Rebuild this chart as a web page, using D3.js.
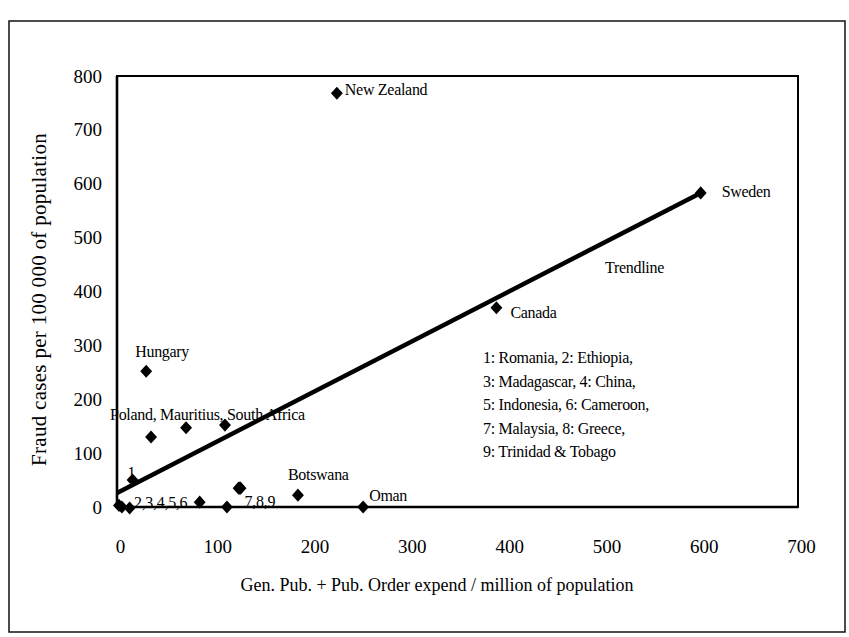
<!DOCTYPE html>
<html>
<head>
<meta charset="utf-8">
<script src="https://cdn.jsdelivr.net/npm/d3@7"></script>
<style>
  body { margin: 0; background: #fff; }
  text { font-family: "Liberation Serif", "Times New Roman", serif; fill: #000; }
</style>
</head>
<body>
<div id="chart"></div>
<script>
// data
const countries = ['Sweden', 'Canada', 'New Zealand', 'Hungary', 'Poland', 'Mauritius', 'South Africa',
  'Botswana', 'Oman', 'Romania', 'Ethiopia', 'Madagascar', 'China', 'Indonesia', 'Cameroon',
  'Malaysia', 'Greece', 'Trinidad & Tobago'];
const expend = [600, 390, 226, 30, 35, 71, 111, 186, 253, 16, 2, 5, 13, 85, 113, 126, 125, 127];
const fraud = [583, 370, 768, 252, 130, 147, 152, 22, 0, 50, 3, 0, -2, 9, 0, 35, 35, 35];
const trendX = [0, 600];
const trendY = [26, 583];
const xTicks = [0, 100, 200, 300, 400, 500, 600, 700];
const yTicks = [0, 100, 200, 300, 400, 500, 600, 700, 800];
const keyLines = ['1: Romania, 2: Ethiopia,', '3: Madagascar, 4: China,', '5: Indonesia, 6: Cameroon,',
  '7: Malaysia, 8: Greece,', '9: Trinidad & Tobago'];

const width = 849, height = 637;
const svg = d3.select('#chart').append('svg')
  .attr('width', width)
  .attr('height', height);

// outer frame
svg.append('rect')
  .attr('x', 9).attr('y', 21)
  .attr('width', 836).attr('height', 611)
  .attr('fill', 'none').attr('stroke', '#111').attr('stroke-width', 1.5);

let xScale = d3.scaleLinear().domain([0, 700]).range([117, 798]);
let yScale = d3.scaleLinear().domain([0, 800]).range([507, 76]);

// plot box
svg.append('rect')
  .attr('x', xScale(0)).attr('y', yScale(800))
  .attr('width', xScale(700) - xScale(0)).attr('height', yScale(0) - yScale(800))
  .attr('fill', 'none').attr('stroke', '#000').attr('stroke-width', 2);
svg.append('path')
  .attr('d', `M${xScale(0)},${yScale(800)}V${yScale(0)}H${xScale(700)}`)
  .attr('fill', 'none').attr('stroke', '#000').attr('stroke-width', 2.6);

// axes (labels only)
let yAxis = svg.append('g')
  .attr('transform', `translate(${xScale(0)},0)`)
  .call(d3.axisLeft(yScale).tickValues(yTicks).tickSize(0).tickPadding(15).tickFormat(d3.format('d')));
yAxis.select('.domain').remove();
yAxis.selectAll('text').style('font-size', '19px').style('font-family', '"Liberation Serif", serif');

let xAxis = svg.append('g')
  .attr('transform', `translate(3,${yScale(0)})`)
  .call(d3.axisBottom(xScale).tickValues(xTicks).tickSize(0).tickPadding(33).tickFormat(d3.format('d')));
xAxis.select('.domain').remove();
xAxis.selectAll('text').style('font-size', '19px').style('font-family', '"Liberation Serif", serif');

// axis titles
svg.append('text')
  .attr('transform', `translate(46,${(yScale(0) + yScale(800)) / 2 + 8}) rotate(-90)`)
  .style('text-anchor', 'middle')
  .style('font-size', '21px')
  .style('letter-spacing', '0.3px')
  .text('Fraud cases per 100 000 of population');
svg.append('text')
  .attr('x', 437).attr('y', 591)
  .style('text-anchor', 'middle')
  .style('font-size', '18px')
  .text('Gen. Pub. + Pub. Order expend / million of population');

// trendline
svg.append('line')
  .attr('x1', xScale(trendX[0])).attr('y1', yScale(trendY[0]))
  .attr('x2', xScale(trendX[1])).attr('y2', yScale(trendY[1]))
  .attr('stroke', '#000').attr('stroke-width', 4.5);

// points
svg.selectAll('path.pt')
  .data(countries)
  .enter()
  .append('path')
  .attr('class', 'pt')
  .attr('d', d3.symbol().type(d3.symbolDiamond2).size(90))
  .attr('transform', (d, i) => `translate(${xScale(expend[i])},${yScale(fraud[i])}) scale(1,1.1)`)
  .attr('fill', '#000');

// point labels, offsets from the point they belong to
let labels = [
  ['New Zealand', 'New Zealand', 8, 2],
  ['Sweden', 'Sweden', 21, 4],
  ['Canada', 'Canada', 14, 10],
  ['Hungary', 'Hungary', -11, -14],
  ['Poland, Mauritius, South Africa', 'Poland', -41, -17],
  ['1', 'Romania', -5, -2],
  ['2,3,4,5,6', 'Ethiopia', 15, 3],
  ['7,8,9', 'Malaysia', 5, 19],
  ['Botswana', 'Botswana', -10, -15],
  ['Oman', 'Oman', 6, -6]
];
svg.selectAll('text.lbl')
  .data(labels)
  .enter()
  .append('text')
  .attr('class', 'lbl')
  .attr('x', d => xScale(expend[countries.indexOf(d[1])]) + d[2])
  .attr('y', d => yScale(fraud[countries.indexOf(d[1])]) + d[3])
  .style('font-size', '16px')
  .style('letter-spacing', '-0.3px')
  .text(d => d[0]);

svg.append('text')
  .attr('x', 605).attr('y', 273)
  .style('font-size', '16px')
  .style('letter-spacing', '-0.3px')
  .text('Trendline');

// key for the numbered points
svg.selectAll('text.key')
  .data(keyLines)
  .enter()
  .append('text')
  .attr('class', 'key')
  .attr('x', 483)
  .attr('y', (d, i) => 363 + i * 23.5)
  .style('font-size', '16px')
  .style('letter-spacing', '-0.3px')
  .text(d => d);
</script>
</body>
</html>
